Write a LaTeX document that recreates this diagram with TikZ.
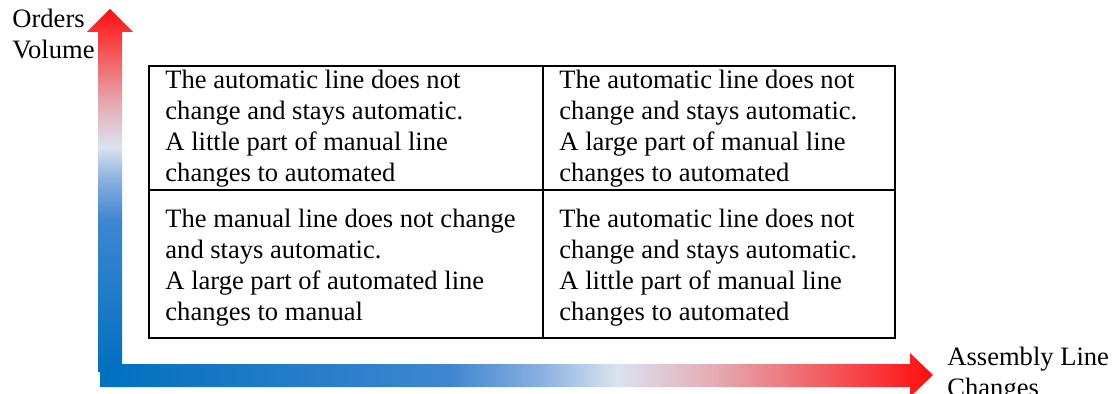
\documentclass[tikz,border=0pt]{standalone}
\usepackage{fontspec}
\setmainfont{Liberation Serif}
\usepackage{xcolor}
\definecolor{axisblue}{RGB}{0,112,192}
\definecolor{axismid}{RGB}{63,134,208}
\definecolor{axissoft}{RGB}{138,176,224}
\definecolor{axislight}{RGB}{218,227,239}
\definecolor{axispink}{RGB}{229,170,178}
\definecolor{axisred}{RGB}{255,13,13}
\pgfdeclarehorizontalshading{axisgrad}{100bp}{color(0bp)=(axisblue); color(25bp)=(axisblue); color(46bp)=(axismid); color(51.5bp)=(axissoft); color(56bp)=(axislight); color(62bp)=(axispink); color(75bp)=(axisred); color(100bp)=(axisred)}
\tikzstyle{cell} = [anchor=north west, align=left, inner sep=0pt, font=\fontsize{12}{13.9}\selectfont]

\begin{document}
\begin{tikzpicture}[x=0.452pt,y=-0.452pt]
\useasboundingbox (0,0) rectangle (1114,394);

% axes
\shade[shading=axisgrad] (100,364) -- (910,364) -- (910,353) -- (933,375) -- (910,397) -- (910,387) -- (100,387) -- cycle;
\shade[shading=axisgrad, shading angle=90] (98,372) -- (98,32) -- (87,32) -- (110,9) -- (133,32) -- (122,32) -- (122,372) -- cycle;

% table
\draw[line width=1pt] (149,66) rectangle (895,338);
\draw[line width=1pt] (543,66) -- (543,338);
\draw[line width=1pt] (149,190) -- (895,190);

\node[cell] (tl) at (165,70) {The automatic line does not\\change and stays automatic.\\A little part of manual line\\changes to automated};
\node[cell] (tr) at (559,70) {The automatic line does not\\change and stays automatic.\\A large part of manual line\\changes to automated};
\node[cell] (bl) at (165,209) {The manual line does not change\\and stays automatic.\\A large part of automated line\\changes to manual};
\node[cell] (br) at (559,209) {The automatic line does not\\change and stays automatic.\\A little part of manual line\\changes to automated};

\node[cell] (ylab) at (12,9) {Orders\\Volume};
\node[cell] (xlab) at (947,347) {Assembly Line\\Changes};
\end{tikzpicture}
\end{document}
